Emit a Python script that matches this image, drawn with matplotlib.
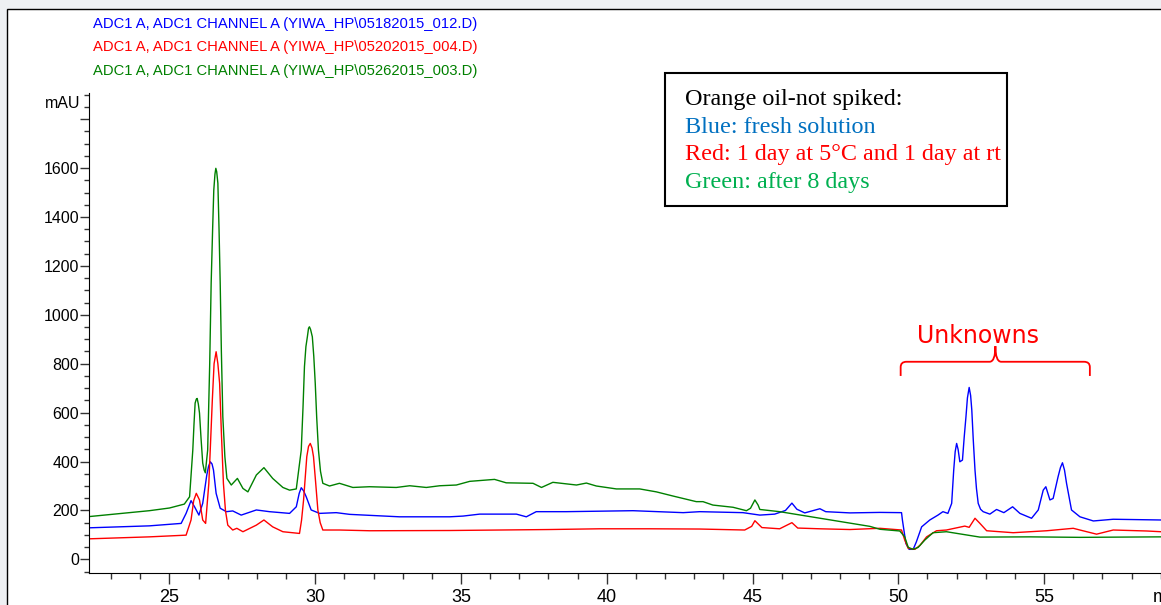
import numpy as np
import matplotlib
matplotlib.use("Agg")
from matplotlib import pyplot as plt
from matplotlib.path import Path
from matplotlib.patches import PathPatch, Rectangle
from matplotlib.ticker import MultipleLocator, FixedLocator

# retention time (min) and signal (mAU)
blue_t = [22.25, 24.31, 25.40, 25.57, 25.74, 25.86, 26.01, 26.14, 26.28, 26.34, 26.40, 26.46, 26.51, 26.60,
          26.74, 26.95, 27.17, 27.46, 27.98, 28.43, 29.12, 29.35, 29.45, 29.52, 29.60, 29.69, 29.86, 30.15,
          30.72, 31.18, 32.89, 34.61, 35.07, 35.64, 36.90, 37.24, 37.58, 38.61, 40.90, 42.62, 43.19, 44.67,
          45.25, 45.76, 46.13, 46.35, 46.52, 46.79, 47.31, 47.51, 48.34, 49.37, 50.11, 50.14, 50.26, 50.37,
          50.51, 50.62, 50.80, 51.08, 51.36, 51.53, 51.70, 51.83, 51.90, 51.95, 52.00, 52.05, 52.11, 52.20,
          52.26, 52.32, 52.37, 52.43, 52.48, 52.52, 52.57, 52.63, 52.68, 52.74, 52.82, 52.91, 53.14, 53.37,
          53.62, 53.92, 54.17, 54.57, 54.80, 54.97, 55.06, 55.13, 55.20, 55.31, 55.48, 55.56, 55.63, 55.70,
          55.77, 55.94, 56.23, 56.69, 57.37, 59.01]
blue_v = [129, 137, 147, 188, 240, 215, 181, 229, 345, 380, 399, 390, 365, 270,
          209, 195, 198, 181, 202, 195, 188, 215, 270, 293, 280, 256, 202, 188,
          191, 184, 174, 174, 177, 185, 185, 174, 195, 195, 199, 191, 195, 191,
          181, 185, 200, 230, 205, 190, 207, 195, 190, 192, 191, 161, 65, 41,
          41, 72, 133, 161, 181, 195, 188, 229, 365, 440, 474, 450, 399, 406,
          500, 583, 660, 703, 670, 611, 490, 365, 290, 229, 205, 195, 185, 204,
          191, 215, 188, 168, 202, 283, 297, 270, 243, 249, 338, 375, 395, 365,
          311, 202, 174, 157, 164, 161]

red_t = [22.25, 24.31, 25.57, 25.74, 25.83, 25.92, 26.03, 26.14, 26.24, 26.35, 26.41, 26.47, 26.53, 26.60,
         26.66, 26.72, 26.78, 26.85, 26.92, 27.00, 27.17, 27.31, 27.52, 27.98, 28.24, 28.54, 28.89, 29.46,
         29.53, 29.60, 29.66, 29.71, 29.77, 29.83, 29.89, 29.94, 30.01, 30.09, 30.17, 30.26, 30.83, 31.86,
         34.61, 38.04, 39.76, 41.47, 43.19, 44.73, 44.97, 45.08, 45.32, 45.93, 46.35, 46.55, 47.31, 48.34,
         49.37, 50.11, 50.22, 50.34, 50.57, 50.74, 50.97, 51.31, 51.65, 52.28, 52.43, 52.63, 52.80, 53.03,
         53.48, 53.94, 55.09, 56.00, 56.23, 56.80, 57.37, 58.52, 59.01]
red_v = [84, 92, 99, 161, 240, 270, 243, 161, 147, 311, 480, 652, 800, 849,
         800, 720, 520, 311, 200, 140, 120, 127, 113, 140, 161, 133, 113, 106,
         160, 243, 340, 420, 462, 474, 455, 420, 320, 202, 150, 120, 120, 117,
         118, 122, 125, 125, 124, 120, 135, 158, 130, 125, 150, 128, 125, 122,
         127, 120, 79, 45, 41, 57, 92, 117, 120, 136, 131, 168, 147, 117,
         113, 109, 117, 127, 120, 103, 120, 116, 113]

green_t = [22.25, 24.31, 25.00, 25.51, 25.69, 25.80, 25.84, 25.88, 25.92, 25.95, 25.99, 26.03, 26.08, 26.14,
           26.19, 26.23, 26.31, 26.38, 26.43, 26.48, 26.52, 26.56, 26.59, 26.62, 26.66, 26.70, 26.74, 26.78,
           26.83, 26.90, 26.97, 27.12, 27.33, 27.52, 27.69, 27.98, 28.24, 28.54, 28.89, 29.12, 29.35, 29.52,
           29.58, 29.63, 29.68, 29.73, 29.77, 29.80, 29.84, 29.90, 29.95, 30.00, 30.05, 30.11, 30.18, 30.26,
           30.49, 30.83, 31.29, 31.86, 32.78, 33.24, 33.81, 34.27, 34.84, 35.30, 36.15, 36.55, 37.47, 37.76,
           38.15, 38.96, 39.30, 39.64, 40.33, 41.13, 41.70, 42.27, 43.07, 43.30, 43.64, 44.33, 44.79, 44.93,
           45.08, 45.19, 45.25, 45.93, 46.96, 47.99, 49.02, 49.37, 50.05, 50.22, 50.34, 50.51, 50.68, 50.91,
           51.19, 51.65, 52.80, 54.51, 56.23, 59.01]
green_v = [175, 199, 210, 226, 256, 447, 550, 639, 655, 658, 635, 598, 500, 394,
           365, 354, 447, 800, 1130, 1350, 1510, 1575, 1599, 1585, 1538, 1350, 1130, 850,
           583, 420, 331, 304, 331, 290, 276, 345, 375, 331, 294, 283, 288, 447,
           620, 788, 870, 910, 945, 951, 940, 910, 830, 720, 580, 447, 360, 311,
           300, 311, 294, 297, 294, 301, 294, 301, 304, 319, 327, 313, 311, 294,
           315, 304, 312, 300, 288, 288, 276, 259, 236, 236, 222, 213, 199, 209,
           243, 222, 204, 195, 175, 155, 135, 123, 116, 92, 49, 41, 49, 79,
           109, 113, 91, 92, 90, 92]

file_names = ["ADC1 A, ADC1 CHANNEL A (YIWA_HP\\05182015_012.D)",
              "ADC1 A, ADC1 CHANNEL A (YIWA_HP\\05202015_004.D)",
              "ADC1 A, ADC1 CHANNEL A (YIWA_HP\\05262015_003.D)"]
note_lines = ["Orange oil-not spiked:", "Blue: fresh solution",
              "Red: 1 day at 5\u00b0C and 1 day at rt", "Green: after 8 days"]

W, H = 1161, 605


def fx(x):
    return x / W


def fy(y):
    return 1 - y / H


fig = plt.figure(figsize=(W / 100, H / 100), dpi=100, facecolor="#eef0f3")
# white panel with black left/top border, kept behind the axes
fig.patches.append(Rectangle((fx(7), fy(700)), 1.2, fy(9) - fy(700), transform=fig.transFigure,
                             facecolor="white", edgecolor="black", lw=1.0, zorder=-5))

ax = fig.add_axes([fx(89.3), fy(573.3), 1 - fx(89.3), fy(93) - fy(573.3)])
ax.set_facecolor("none")
ax.plot(blue_t, blue_v, color="#0000ff", lw=1.0)
ax.plot(red_t, red_v, color="#ff0000", lw=1.0)
ax.plot(green_t, green_v, color="#008000", lw=1.0)

ax.set_xlim(22.25, 59.01)
ax.set_ylim(-57, 1907)
for s in ["top", "right"]:
    ax.spines[s].set_visible(False)
ax.xaxis.set_major_locator(MultipleLocator(5))
ax.xaxis.set_minor_locator(MultipleLocator(1))
ax.yaxis.set_major_locator(FixedLocator(range(0, 1801, 200)))
ax.yaxis.set_minor_locator(MultipleLocator(50))
ax.set_yticklabels([str(v) for v in range(0, 1601, 200)] + [""])

tick_font = ["Liberation Sans", "DejaVu Sans"]
ax.tick_params(axis="x", which="major", length=8, width=1, color="#333333", pad=3, labelsize=13)
ax.tick_params(axis="x", which="minor", length=4, width=1, color="#333333")
ax.tick_params(axis="y", which="major", length=6.5, width=1, color="#333333", pad=1, labelsize=11.5)
ax.tick_params(axis="y", which="minor", length=3.5, width=1, color="#333333")
for lab in ax.get_xticklabels() + ax.get_yticklabels():
    lab.set_family(tick_font)

fig.text(fx(80), fy(103), "mAU", ha="right", va="center", fontsize=11.5, family=tick_font)
fig.text(fx(1153), fy(602), "min", ha="left", va="baseline", fontsize=13, family=tick_font)

# file names
for name, col, yb in zip(file_names, ["#0000ff", "#ff0000", "#008000"], [28, 51, 75]):
    fig.text(fx(93), fy(yb), name, color=col, ha="left", va="baseline",
             fontsize=10.6, family=tick_font)

# note box
fig.patches.append(Rectangle((fx(665), fy(206)), fx(1007) - fx(665), fy(73) - fy(206),
                             transform=fig.transFigure, facecolor="white", edgecolor="black", lw=1.5))
for line, col, yb in zip(note_lines, ["black", "#0070c0", "#ff0000", "#00b050"], [105, 132.7, 160, 187.7]):
    fig.text(fx(685), fy(yb), line, color=col, ha="left", va="baseline",
             fontsize=17.4, family=["Liberation Serif", "DejaVu Serif"])

# bracket over the unknown peaks
xl, xm, xr = 50.08, 53.33, 56.57
yb, ye, yt = 808, 750, 872
verts = [(xl, ye), (xl, yb - 22), (xl, yb), (xl + 0.2, yb), (xm - 0.2, yb), (xm, yb), (xm, yt),
         (xm, yb), (xm + 0.2, yb), (xr - 0.2, yb), (xr, yb), (xr, yb - 22), (xr, ye)]
codes = [Path.MOVETO, Path.LINETO, Path.CURVE3, Path.CURVE3, Path.LINETO, Path.CURVE3, Path.CURVE3,
         Path.CURVE3, Path.CURVE3, Path.LINETO, Path.CURVE3, Path.CURVE3, Path.LINETO]
ax.add_patch(PathPatch(Path(verts, codes), facecolor="none", edgecolor="#ff0000", lw=1.3))
fig.text(fx(978), fy(342.7), "Unknowns", color="#ff0000", ha="center", va="baseline",
         fontsize=17, family="DejaVu Sans")

fig.savefig("out.png", dpi=100, facecolor=fig.get_facecolor())
